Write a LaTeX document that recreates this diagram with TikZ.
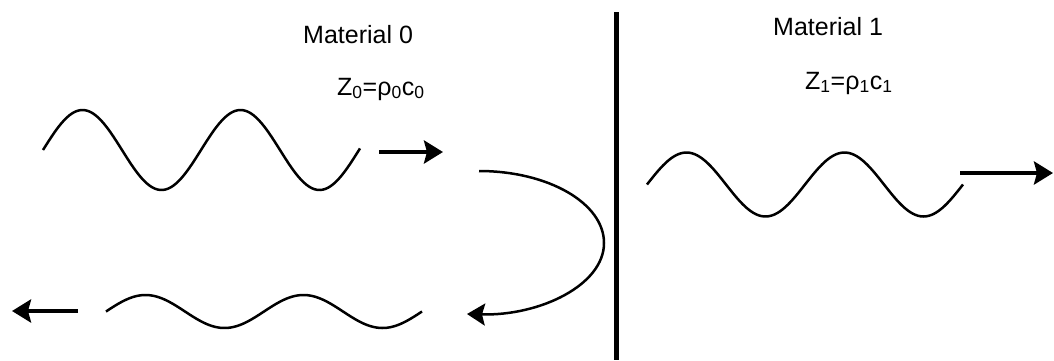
\documentclass[tikz,border=0pt]{standalone}
\usepackage{fontspec}
\setmainfont{Liberation Sans}
\usepackage{tikz}
\usetikzlibrary{arrows.meta}

\begin{document}
\begin{tikzpicture}[x=1pt, y=-1pt]
        \tikzstyle{txt} = [font=\fontsize{25}{30}\selectfont, inner sep=0pt, anchor=base west]
        \tikzstyle{wave} = [line width=2.5pt, samples=120, smooth]
        \tikzstyle{arrow} = [line width=4pt, -{Stealth[length=19pt, width=23pt, inset=3pt]}]
        \tikzstyle{bounce} = [line width=2.5pt, -{Stealth[length=18pt, width=22pt, inset=3pt]}]
        \tikzstyle{interface} = [line width=5pt]

        \useasboundingbox (0,0) rectangle (1054,360);

        \node (mat0) [txt] at (303,43) {Material 0};
        \node (imp0) [txt] at (337,95) {Z\textsubscript{0}=ρ\textsubscript{0}c\textsubscript{0}};
        \node (mat1) [txt] at (773,35) {Material 1};
        \node (imp1) [txt] at (805,89) {Z\textsubscript{1}=ρ\textsubscript{1}c\textsubscript{1}};

        \coordinate (top) at (616,12);
        \coordinate (bot) at (616,360);
        \coordinate (inc0) at (379,152);
        \coordinate (inc1) at (443,152);
        \coordinate (ref0) at (78,311);
        \coordinate (ref1) at (12,311);
        \coordinate (tr0) at (960,173);
        \coordinate (tr1) at (1053,173);
        \coordinate (hit) at (479,171);
        \coordinate (wall) at (604,243);
        \coordinate (back) at (467,314);

        % waves, period 158
        \draw [wave] plot [domain=43:360] (\x, {150 - 40*sin((\x-43)*2.2785)});
        \draw [wave] plot [domain=106:422] (\x, {311.5 - 16.5*sin((\x-106)*2.2785)});
        \draw [wave] plot [domain=647:963] (\x, {184.5 - 32*sin((\x-647)*2.2785)});

        \draw [interface] (top) -- (bot);
        \draw [arrow] (inc0) -- (inc1);
        \draw [arrow] (ref0) -- (ref1);
        \draw [arrow] (tr0) -- (tr1);
        \draw [bounce] (hit) .. controls (548,171) and (604,203) .. (wall)
                .. controls (604,285) and (540,316) .. (back);
\end{tikzpicture}
\end{document}
